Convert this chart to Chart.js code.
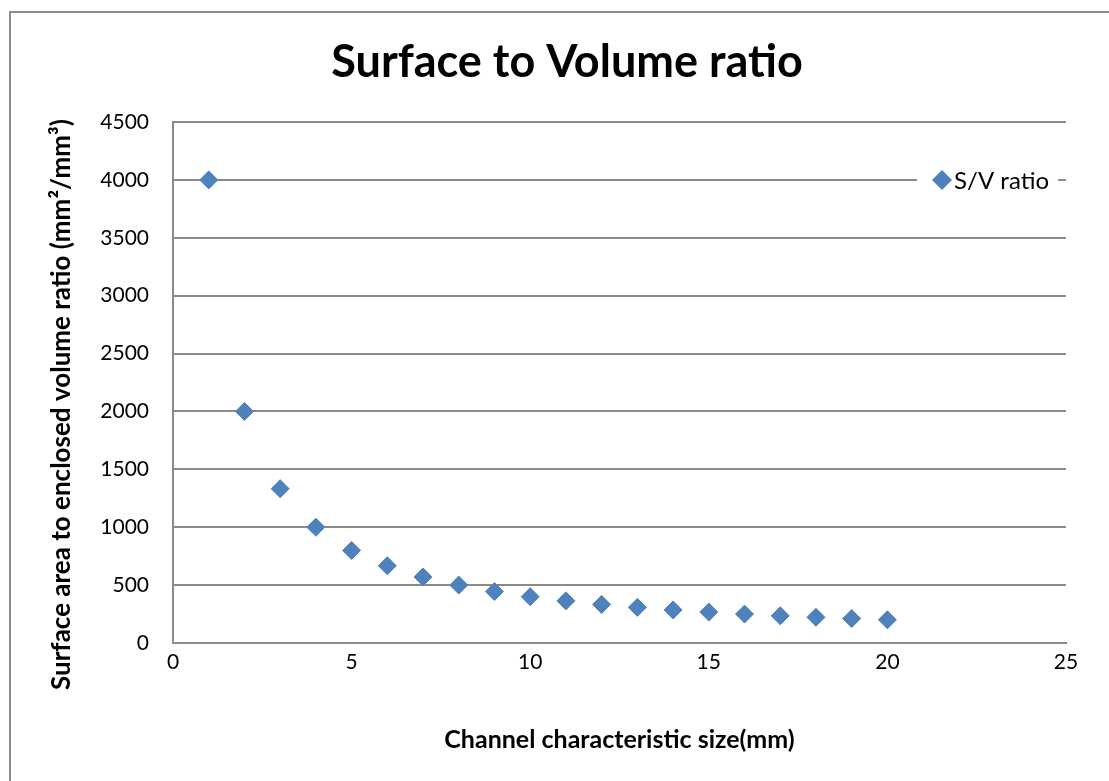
<!DOCTYPE html>
<html>
<head>
<meta charset="utf-8">
<script src="https://cdn.jsdelivr.net/npm/chart.js@4"></script>
<style>
  body { margin: 0; background: #fff; }
  #frame { position: absolute; left: 9px; top: 11px; width: 1110px; height: 780px; border: 2px solid #8c8c8c; }
  #wrap { position: absolute; left: 0; top: 0; width: 1109px; height: 781px; }
</style>
</head>
<body>
<div id="frame"></div>
<div id="wrap"><canvas id="chart"></canvas></div>
<script>
// channel size (mm) and surface/volume ratio
var sizes = [1, 2, 3, 4, 5, 6, 7, 8, 9, 10, 11, 12, 13, 14, 15, 16, 17, 18, 19, 20];
var ratios = [4000, 2000, 1333, 1000, 800, 667, 571, 500, 444, 400, 364, 333, 308, 286, 267, 250, 235, 222, 211, 200];
var xTicks = [0, 5, 10, 15, 20, 25];
var yTicks = [0, 500, 1000, 1500, 2000, 2500, 3000, 3500, 4000, 4500];

var blue = '#4f81bd';
var gridGray = '#8a8a8a';
var fontFamily = 'Lato, "Open Sans", sans-serif';

// small legend drawn inside the plot, like the Excel original
var boxLegend = {
  id: 'boxLegend',
  afterDatasetsDraw(chart) {
    var ctx = chart.ctx;
    var area = chart.chartArea;
    var ds = chart.data.datasets[0];
    var y = chart.scales.y.getPixelForValue(4000);
    var x0 = area.right - 149;
    ctx.save();
    ctx.fillStyle = '#fff';
    ctx.fillRect(x0, y - 14, 141, 28);
    ctx.fillStyle = ds.backgroundColor;
    ctx.beginPath();
    ctx.moveTo(x0 + 25 - 10, y);
    ctx.lineTo(x0 + 25, y - 10);
    ctx.lineTo(x0 + 25 + 10, y);
    ctx.lineTo(x0 + 25, y + 10);
    ctx.closePath();
    ctx.fill();
    ctx.fillStyle = '#000';
    ctx.font = '24px ' + fontFamily;
    ctx.textBaseline = 'middle';
    ctx.fillText(ds.label, x0 + 37, y + 1);
    ctx.restore();
  }
};

function plainTick(v) { return String(v); }

new Chart(document.getElementById('chart'), {
  type: 'scatter',
  data: {
    datasets: [{
      label: 'S/V ratio',
      data: sizes.map(function (s, i) { return { x: s, y: ratios[i] }; }),
      backgroundColor: blue,
      borderColor: blue,
      borderWidth: 1,
      pointStyle: 'rectRot',
      pointRadius: 9,
      pointHoverRadius: 9
    }]
  },
  options: {
    responsive: true,
    maintainAspectRatio: false,
    animation: false,
    layout: { padding: { left: 25, right: 0, top: 0, bottom: 0 } },
    plugins: {
      legend: { display: false },
      tooltip: { enabled: false },
      title: {
        display: true,
        text: 'Surface to Volume ratio',
        color: '#000',
        font: { family: fontFamily, size: 45, weight: 'bold', lineHeight: 1.2 },
        padding: { top: 35, bottom: 33 }
      }
    },
    scales: {
      x: {
        type: 'linear',
        min: 0,
        max: 25,
        afterBuildTicks: function (scale) {
          scale.ticks = xTicks.map(function (v) { return { value: v }; });
        },
        afterFit: function (scale) { scale.height = 138; },
        grid: { display: false, drawTicks: false },
        border: { display: true, color: gridGray, width: 2 },
        ticks: { color: '#000', padding: 7, callback: plainTick, font: { family: fontFamily, size: 21 } },
        title: {
          display: true,
          text: 'Channel characteristic size(mm)',
          color: '#000',
          font: { family: fontFamily, size: 25, weight: 'bold', lineHeight: 1.2 },
          padding: { top: 0, bottom: 26 }
        }
      },
      y: {
        type: 'linear',
        min: 0,
        max: 4500,
        afterBuildTicks: function (scale) {
          scale.ticks = yTicks.map(function (v) { return { value: v }; });
        },
        afterFit: function (scale) { scale.width = 148; },
        grid: { color: gridGray, lineWidth: 2, drawTicks: false },
        border: { display: true, color: gridGray, width: 2 },
        ticks: { color: '#000', padding: 24, callback: plainTick, font: { family: fontFamily, size: 21 } },
        title: {
          display: true,
          text: 'Surface area to enclosed volume ratio (mm²/mm³)       ',
          color: '#000',
          font: { family: fontFamily, size: 26, weight: 'bold', lineHeight: 1.2 },
          padding: { top: 21, bottom: 0 }
        }
      },
      // empty right-hand strip so the plot stops where the original does
      yRight: {
        type: 'linear',
        position: 'right',
        display: true,
        afterFit: function (scale) { scale.width = 43; },
        grid: { display: false, drawTicks: false },
        border: { display: false },
        ticks: { display: false }
      }
    }
  },
  plugins: [boxLegend]
});
</script>
</body>
</html>
